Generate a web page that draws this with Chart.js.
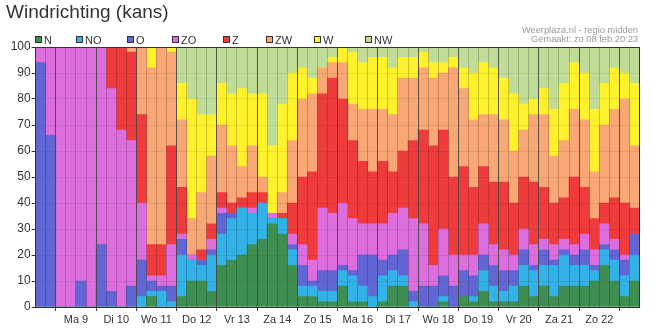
<!DOCTYPE html>
<html>
<head>
<meta charset="utf-8">
<script src="https://cdn.jsdelivr.net/npm/chart.js@4/dist/chart.umd.min.js"></script>
<style>
  html, body { margin: 0; padding: 0; background: #fff; }
  #wrap { position: relative; width: 653px; height: 330px; font-family: "Liberation Sans", Arial, sans-serif; }
  #chart { position: absolute; left: 0; top: 0; }
  .title { position: absolute; left: 6px; top: 2px; font-size: 19px; line-height: 19px; color: #333; white-space: nowrap; }
  .source { position: absolute; right: 15px; top: 25.5px; font-size: 9.3px; line-height: 9.5px; color: #999; text-align: right; white-space: nowrap; }
  .lg { position: absolute; top: 34.7px; font-size: 11px; line-height: 11px; color: #333; padding-left: 9px; white-space: nowrap; }
  .lg i { position: absolute; left: 0; top: 1.5px; width: 7px; height: 7px; border: 1px solid #333; box-sizing: border-box; }
</style>
</head>
<body>
<div id="wrap">
  <canvas id="chart" width="653" height="330"></canvas>
  <div class="title">Windrichting (kans)</div>
  <div class="source">Weerplaza.nl - regio midden<br>Gemaakt: zo 08 feb 20:23</div>
  <div id="legend"></div>
</div>
<script>
// days on the axis; first (zo 8) and last (ma 23) are partial and carry no label
const dayLabels = ['Ma 9', 'Di 10', 'Wo 11', 'Do 12', 'Vr 13', 'Za 14', 'Zo 15',
                   'Ma 16', 'Di 17', 'Wo 18', 'Do 19', 'Vr 20', 'Za 21', 'Zo 22'];
const hours = ['00u', '06u', '12u', '18u'];

// kans (%) per 6-uurs blok, 60 blokken
const N  = [0,0,0,0,0,0,0,0,0,0, 0,4,0,0,4,10,10,6,16,18, 20,24,26,32,28,16,4,4,2,2, 8,2,2,0,2,8,8,0,0,0, 2,0,4,2,6,2,2,2,8,4, 8,4,8,8,8,10,16,10,4,10];
const NO = [0,0,0,0,0,0,0,0,0,0, 4,2,6,2,16,8,6,14,12,16, 18,12,14,2,6,6,4,4,4,4, 6,10,6,4,10,6,4,2,0,0, 2,0,0,2,8,6,4,6,8,10, 8,12,12,8,8,4,6,8,8,10];
const O  = [94,66,0,0,10,0,24,6,0,8, 14,4,2,6,6,0,2,2,8,2, 0,0,0,0,0,2,8,2,8,8, 2,2,12,16,6,6,10,4,8,8, 8,8,10,8,6,8,8,6,6,2, 6,2,2,4,6,2,2,4,6,8];
const ZO = [6,34,100,100,90,100,76,78,68,56, 22,2,4,16,2,2,0,4,2,0, 0,2,0,2,0,4,8,8,24,22, 24,20,12,12,14,16,16,28,24,8, 18,12,6,8,12,8,8,6,8,8, 4,6,4,4,6,6,8,4,2,0];
const Z  = [0,0,0,0,0,0,0,16,32,34, 34,12,12,38,18,0,4,6,6,4, 4,6,4,0,2,12,26,34,44,52, 40,30,24,20,24,16,22,30,36,46, 38,30,34,26,22,24,26,20,20,24, 20,16,16,26,18,12,8,16,20,10];
const ZW = [0,0,0,0,0,0,0,0,0,2, 26,68,76,36,26,14,22,26,26,22, 12,18,6,0,8,24,30,30,10,6, 14,14,20,24,20,22,28,24,24,26, 22,42,30,26,20,26,24,20,18,26, 28,18,22,26,26,18,30,34,40,24];
const W  = [0,0,0,0,0,0,0,0,0,0, 0,8,0,2,14,46,30,16,16,20, 30,20,32,26,34,26,12,6,0,2, 6,20,18,20,20,18,8,8,6,6, 4,4,8,18,20,18,16,22,10,6, 10,18,22,18,18,24,16,16,10,24];
const NW = [0,0,0,0,0,0,0,0,0,0, 0,0,0,0,14,20,26,26,14,18, 16,18,18,38,22,10,8,12,8,4, 0,2,6,4,4,8,4,4,2,6, 6,4,8,10,6,8,12,18,22,20, 16,24,14,6,10,24,14,8,10,14];

// category per bar: zo 8 12u .. ma 23 06u
const labels = ['Zo 8 12u', 'Zo 8 18u'];
dayLabels.forEach(d => hours.forEach(h => labels.push(d + ' ' + h)));
labels.push('Ma 23 00u', 'Ma 23 06u');

const colors = {
  N: '#3e8e52', NO: '#33b2e8', O: '#6266d4', ZO: '#dc6ede',
  Z: '#ef3b3b', ZW: '#f9a774', W: '#fff22c', NW: '#bfdc98'
};

function ds(label, data) {
  return { label, data, backgroundColor: colors[label], borderWidth: 0,
           barPercentage: 1, categoryPercentage: 1 };
}

const isDayLine = i => i !== undefined && i >= 2 && i <= 58 && (i - 2) % 4 === 0;

// HTML legend built from the datasets
const legendX = [35, 76, 127, 172, 223, 266, 314, 365];
const htmlLegend = {
  id: 'htmlLegend',
  afterUpdate(chart) {
    const box = document.getElementById('legend');
    box.innerHTML = '';
    chart.data.datasets.forEach((d, i) => {
      const item = document.createElement('span');
      item.className = 'lg';
      item.style.left = legendX[i] + 'px';
      const sw = document.createElement('i');
      sw.style.background = d.backgroundColor;
      item.appendChild(sw);
      item.appendChild(document.createTextNode(d.label));
      box.appendChild(item);
    });
  }
};

Chart.defaults.font.family = '"Liberation Sans", Arial, sans-serif';

new Chart(document.getElementById('chart'), {
  type: 'bar',
  data: {
    labels,
    datasets: [ds('N', N), ds('NO', NO), ds('O', O), ds('ZO', ZO),
               ds('Z', Z), ds('ZW', ZW), ds('W', W), ds('NW', NW)]
  },
  options: {
    responsive: false,
    animation: false,
    layout: { padding: { top: 47, left: 5.7, right: 13.5, bottom: 0 } },
    plugins: { legend: { display: false }, title: { display: false } },
    scales: {
      x: {
        stacked: true,
        grid: {
          z: 1,                              // separators drawn over the bars
          offset: true,
          color: c => c.index === undefined ? '#333' : (isDayLine(c.index) ? 'rgba(70,70,70,0.9)' : 'rgba(0,0,0,0.2)'),
          tickColor: c => isDayLine(c.index) ? '#444' : 'transparent',
          tickLength: 4
        },
        border: { color: '#333', z: 2 },
        ticks: {
          autoSkip: false, maxRotation: 0, minRotation: 0,
          labelOffset: -5, padding: 2, color: '#333', font: { size: 11 },
          callback: (v, i) => (i >= 4 && i <= 56 && i % 4 === 0) ? dayLabels[(i - 4) / 4] : ''
        },
        afterFit: s => { s.height = 23; }
      },
      y: {
        stacked: true, min: 0, max: 100,
        ticks: { stepSize: 10, color: '#333', font: { size: 12 }, padding: 1 },
        grid: {
          z: 1,
          color: c => (c.tick && c.tick.value === 100) ? '#333' : 'rgba(0,0,0,0.07)',
          tickColor: '#333', tickLength: 4
        },
        border: { color: '#333', z: 2 },
        afterFit: s => { s.width = 30; }
      }
    }
  },
  plugins: [htmlLegend]
});
</script>
</body>
</html>
